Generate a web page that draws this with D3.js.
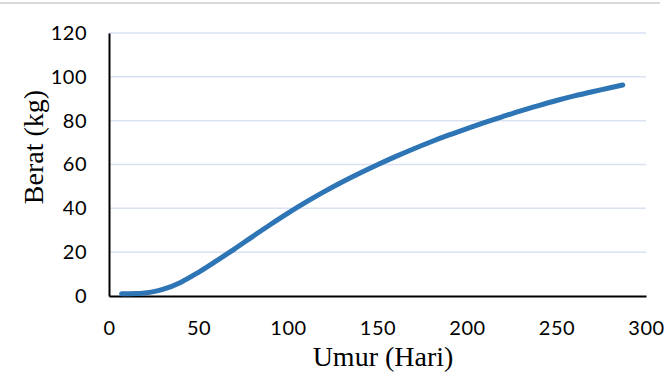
<!DOCTYPE html>
<html>
<head>
<meta charset="utf-8">
<script src="https://cdn.jsdelivr.net/npm/d3@7"></script>
<style>
  html, body { margin: 0; padding: 0; background: #fff; }
  svg { display: block; }
</style>
</head>
<body>
<svg id="chart" width="668" height="377"></svg>
<script>
// Growth curve: age in days vs. body weight in kg
const days   = [7, 15, 20, 25, 30, 40, 50, 60, 70, 80, 90, 100, 110, 120, 130, 140, 150,
                160, 170, 180, 190, 200, 210, 220, 230, 240, 250, 260, 270, 280, 287];
const weight = [1.0, 1.1, 1.4, 2.0, 3.0, 6.2, 10.8, 16.0, 21.4, 27.0, 32.5, 37.8, 42.8, 47.5, 51.9, 56.0, 59.9,
                63.6, 67.1, 70.4, 73.5, 76.4, 79.2, 81.9, 84.5, 86.9, 89.2, 91.3, 93.2, 95.0, 96.3];
const xTicks = [0, 50, 100, 150, 200, 250, 300];
const yTicks = [0, 20, 40, 60, 80, 100, 120];
const xTitle = "Umur (Hari)";
const yTitle = "Berat (kg)";

const svg = d3.select("#chart");
const margin = { left: 109, right: 22, top: 33, bottom: 81 };
const W = 668, H = 377;
const tickFont = "Lato, 'Open Sans', sans-serif";
const titleFont = "'Liberation Serif', 'Times New Roman', serif";

const x = d3.scaleLinear().domain([0, 300]).range([margin.left, W - margin.right]);
const y = d3.scaleLinear().domain([0, 120]).range([H - margin.bottom, margin.top]);

// frame edge along the top
svg.append("line")
  .attr("x1", 0).attr("x2", 660).attr("y1", 3).attr("y2", 3)
  .attr("stroke", "#d9d9d9").attr("stroke-width", 2);

// horizontal gridlines
svg.append("g")
  .selectAll("line")
  .data(yTicks.filter(d => d > 0))
  .join("line")
  .attr("x1", x(0)).attr("x2", x(300))
  .attr("y1", d => y(d)).attr("y2", d => y(d))
  .attr("stroke", "#d9e1f2").attr("stroke-width", 1.5);

// y axis
const yAxis = svg.append("g")
  .attr("transform", `translate(${x(0)},0)`)
  .call(d3.axisLeft(y).tickValues(yTicks).tickSize(0).tickPadding(22));
yAxis.select(".domain").attr("stroke", "#000").attr("stroke-width", 2);
yAxis.selectAll("text")
  .attr("font-family", tickFont)
  .attr("font-size", 20)
  .attr("letter-spacing", 0.5)
  .attr("fill", "#000");

// x axis
const xAxis = svg.append("g")
  .attr("transform", `translate(0,${y(0)})`)
  .call(d3.axisBottom(x).tickValues(xTicks).tickSize(0).tickPadding(25));
xAxis.select(".domain").attr("stroke", "#000").attr("stroke-width", 2);
xAxis.selectAll("text")
  .attr("font-family", tickFont)
  .attr("font-size", 20)
  .attr("letter-spacing", 0.5)
  .attr("fill", "#000");

// growth curve
const line = d3.line()
  .x((d, i) => x(days[i]))
  .y(d => y(d))
  .curve(d3.curveMonotoneX);

svg.append("path")
  .datum(weight)
  .attr("d", line)
  .attr("fill", "none")
  .attr("stroke", "#2e75b6")
  .attr("stroke-width", 5)
  .attr("stroke-linecap", "round")
  .attr("stroke-linejoin", "round");

// axis titles
svg.append("text")
  .attr("x", 383).attr("y", 366)
  .attr("text-anchor", "middle")
  .attr("font-family", titleFont)
  .attr("font-size", 28)
  .text(xTitle);

svg.append("text")
  .attr("transform", `translate(43,147) rotate(-90)`)
  .attr("text-anchor", "middle")
  .attr("font-family", titleFont)
  .attr("font-size", 28)
  .text(yTitle);
</script>
</body>
</html>
